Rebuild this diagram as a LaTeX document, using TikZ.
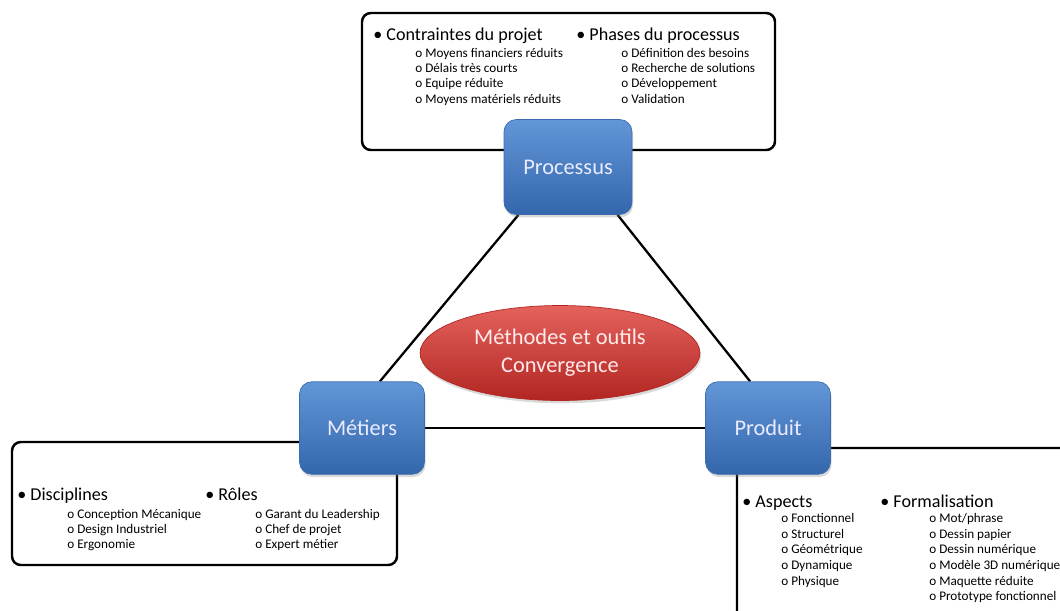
\documentclass[tikz,border=0pt]{standalone}
\usepackage{fontspec}
\setmainfont{Carlito}
\usetikzlibrary{shapes, positioning, shadows, backgrounds}
\usepackage{xcolor}
\definecolor{blktop}{RGB}{98,150,215}
\definecolor{blkbot}{RGB}{52,102,172}
\definecolor{blkline}{RGB}{60,108,175}
\definecolor{ovtop}{RGB}{228,98,92}
\definecolor{ovbot}{RGB}{178,38,34}
\tikzstyle{link}  = [line width=1.3pt, black]
\tikzstyle{frame} = [line width=1.4pt, rounded corners=5pt]

\begin{document}
\begin{tikzpicture}[x=0.02cm, y=-0.02cm]
        \tikzstyle{blk}=[rectangle, rounded corners=7pt, draw=blkline, top color=blktop, bottom color=blkbot,
                         minimum width=2.5cm, minimum height=1.85cm, text=white!92!blue,
                         drop shadow={opacity=0.3, shadow xshift=0.6pt, shadow yshift=-1.6pt},
                         font=\fontsize{12.75}{15}\selectfont]
        \tikzstyle{hd}=[anchor=base west, inner sep=0pt, font=\fontsize{10.3}{12}\selectfont]
        \tikzstyle{itm}=[anchor=base west, inner sep=0pt, font=\fontsize{7.5}{9}\selectfont]
        \useasboundingbox (0,0) rectangle (1060,610);
        \node (proc) [blk, minimum width=2.56cm, minimum height=1.9cm] at (568,167) {Processus};
        \node (met) [blk] at (362,428) {Métiers};
        \node (prod) [blk] at (768,428) {Produit};
        \node (mo) [ellipse, draw=ovbot, top color=ovtop, bottom color=ovbot, minimum width=5.6cm,
                    minimum height=1.9cm, align=center, text=white!92!red,
                    drop shadow={opacity=0.3, shadow xshift=0.6pt, shadow yshift=-1.6pt},
                    font=\fontsize{12.75}{15.9}\selectfont] at (560,353) {Méthodes et outils\\Convergence};
        \node (h1) [hd] at (373,40) {•~Contraintes du projet};
        \foreach \t [count=\i] in {Moyens financiers réduits, Délais très courts, Equipe réduite, Moyens matériels réduits}
            \node (c\i) [itm] at (415,42+15.3*\i) {o~\t};
        \node (h2) [hd] at (576,40) {•~Phases du processus};
        \foreach \t [count=\i] in {Définition des besoins, Recherche de solutions, Développement, Validation}
            \node (p\i) [itm] at (621,42+15.3*\i) {o~\t};
        \node (h3) [hd] at (17,500) {•~Disciplines};
        \foreach \t [count=\i] in {Conception Mécanique, Design Industriel, Ergonomie}
            \node (d\i) [itm] at (67,503+15*\i) {o~\t};
        \node (h4) [hd] at (205,500) {•~Rôles};
        \foreach \t [count=\i] in {Garant du Leadership, Chef de projet, Expert métier}
            \node (r\i) [itm] at (255,503+15*\i) {o~\t};
        \node (h5) [hd] at (742,507) {•~Aspects};
        \foreach \t [count=\i] in {Fonctionnel, Structurel, Géométrique, Dynamique, Physique}
            \node (a\i) [itm] at (781,507+15.6*\i) {o~\t};
        \node (h6) [hd] at (880,507) {•~Formalisation};
        \foreach \t [count=\i] in {Mot/phrase, Dessin papier, Dessin numérique, Modèle 3D numérique, Maquette réduite, Prototype fonctionnel}
            \node (f\i) [itm] at (929,507+15.6*\i) {o~\t};
        \begin{scope}[on background layer]
            \draw[frame] (362,13) rectangle (775,150);
            \draw[frame] (12,442) rectangle (397,565);
            \draw[frame] (737,625) -- (737,448) -- (1075,448);
            \draw[link] (proc.224) -- (met.69);
            \draw[link] (proc.316) -- (prod.111);
            \draw[link] (met) -- (prod);
        \end{scope}
    \end{tikzpicture}
\end{document}
